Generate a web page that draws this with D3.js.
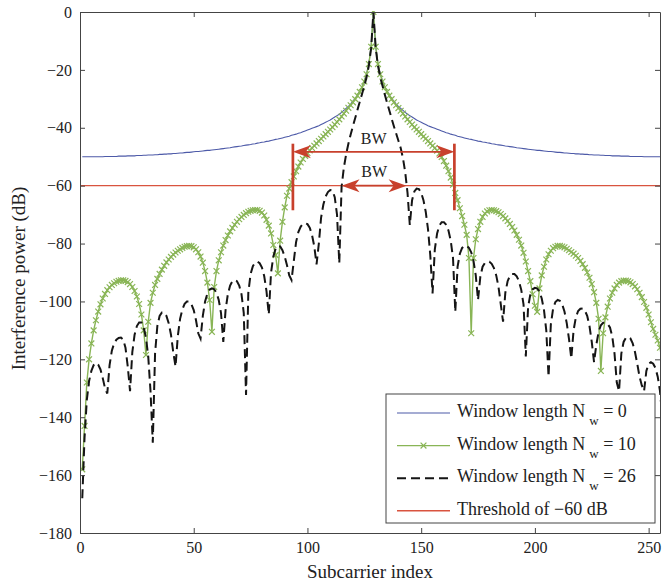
<!DOCTYPE html>
<html>
<head>
<meta charset="utf-8">
<script src="https://cdn.jsdelivr.net/npm/d3@7/dist/d3.min.js"></script>
<style>
  html, body { margin: 0; padding: 0; background: #ffffff; }
  svg { display: block; }
</style>
</head>
<body>
<svg id="chart" width="663" height="583"></svg>
<script>
// Subcarrier indices 1..256 (the desired subcarrier sits at index 129)
const subcarrier = d3.range(1, 257);

// Interference power (dB), window length Nw = 0
const nw0 = [
  -50,-50,-50,-50,-50,-50,-50,-50,-50,-50,
  -49.9,-49.9,-49.9,-49.9,-49.9,-49.9,-49.8,-49.8,-49.8,-49.8,
  -49.7,-49.7,-49.7,-49.7,-49.6,-49.6,-49.6,-49.5,-49.5,-49.4,
  -49.4,-49.4,-49.3,-49.3,-49.2,-49.2,-49.1,-49.1,-49.0,-49.0,
  -48.9,-48.9,-48.8,-48.7,-48.7,-48.6,-48.5,-48.5,-48.4,-48.3,
  -48.2,-48.2,-48.1,-48.0,-47.9,-47.8,-47.8,-47.7,-47.6,-47.5,
  -47.4,-47.3,-47.2,-47.1,-47.0,-46.9,-46.7,-46.6,-46.5,-46.4,
  -46.3,-46.1,-46.0,-45.9,-45.8,-45.6,-45.5,-45.3,-45.2,-45.0,
  -44.9,-44.7,-44.6,-44.4,-44.2,-44.0,-43.9,-43.7,-43.5,-43.3,
  -43.1,-42.9,-42.6,-42.4,-42.2,-41.9,-41.7,-41.4,-41.1,-40.8,
  -40.5,-40.2,-39.9,-39.6,-39.3,-38.9,-38.5,-38.1,-37.7,-37.3,
  -36.8,-36.3,-35.8,-35.3,-34.7,-34.0,-33.3,-32.6,-31.8,-30.8,
  -29.8,-28.7,-27.3,-25.8,-23.8,-21.3,-17.8,-11.8,0,
  -11.8,-17.8,-21.3,-23.8,-25.8,-27.3,-28.7,-29.8,-30.8,-31.8,
  -32.6,-33.3,-34.0,-34.7,-35.3,-35.8,-36.3,-36.8,-37.3,-37.7,
  -38.1,-38.5,-38.9,-39.3,-39.6,-39.9,-40.2,-40.5,-40.8,-41.1,
  -41.4,-41.7,-41.9,-42.2,-42.4,-42.6,-42.9,-43.1,-43.3,-43.5,
  -43.7,-43.9,-44.0,-44.2,-44.4,-44.6,-44.7,-44.9,-45.0,-45.2,
  -45.3,-45.5,-45.6,-45.8,-45.9,-46.0,-46.1,-46.3,-46.4,-46.5,
  -46.6,-46.7,-46.9,-47.0,-47.1,-47.2,-47.3,-47.4,-47.5,-47.6,
  -47.7,-47.8,-47.8,-47.9,-48.0,-48.1,-48.2,-48.2,-48.3,-48.4,
  -48.5,-48.5,-48.6,-48.7,-48.7,-48.8,-48.9,-48.9,-49.0,-49.0,
  -49.1,-49.1,-49.2,-49.2,-49.3,-49.3,-49.4,-49.4,-49.4,-49.5,
  -49.5,-49.6,-49.6,-49.6,-49.7,-49.7,-49.7,-49.7,-49.8,-49.8,
  -49.8,-49.8,-49.9,-49.9,-49.9,-49.9,-49.9,-49.9,-50.0,-50.0,
  -50,-50,-50,-50,-50,-50,-50
];

// Interference power (dB), window length Nw = 10
const nw10 = [
  -158,-143,-128,-120,-114.5,-110,-106.5,-103.5,-101,-99,
  -97.4,-96.1,-95.1,-94.3,-93.7,-93.2,-92.9,-92.7,-92.7,-92.9,
  -93.3,-94,-95,-96.4,-98.3,-100.9,-104.5,-110,-118.5,-107,
  -100.5,-97,-94.3,-92.2,-90.5,-89,-87.7,-86.5,-85.5,-84.6,
  -83.8,-83.1,-82.5,-82,-81.5,-81.1,-80.9,-80.8,-80.9,-81.3,
  -82,-83,-84.5,-86.6,-89.5,-93.5,-99.5,-110.5,-95,-89.5,
  -85.8,-83,-80.7,-78.8,-77.2,-75.8,-74.6,-73.5,-72.5,-71.6,
  -70.8,-70.1,-69.5,-69,-68.7,-68.5,-68.4,-68.4,-68.7,-69.3,
  -70.3,-71.8,-73.8,-76.5,-80.5,-84,-90.3,-79,-72.5,-67.5,
  -63.5,-61,-58.8,-56.8,-55,-53.4,-52,-50.8,-49.7,-48.7,
  -47.8,-47,-46.2,-45.4,-44.6,-43.8,-43,-42.2,-41.4,-40.6,
  -39.8,-38.9,-38,-37.1,-36.1,-35.1,-34.1,-33.1,-32.2,-31.2,
  -30.1,-28.9,-27.6,-26,-24,-21.5,-18,-12,0,
  -12,-18,-21.5,-24,-26,-27.6,-28.9,-30.1,-31.2,-32.2,
  -33.2,-34.1,-35.1,-36.1,-37.1,-38,-38.9,-39.8,-40.6,-41.4,
  -42.2,-43,-43.8,-44.6,-45.4,-46.2,-47,-47.9,-48.9,-50.1,
  -51.5,-53.1,-55,-57.2,-59.7,-62.5,-65,-67.8,-70.5,-73.5,
  -77,-85,-111,-85,-78.5,-75,-72.5,-70.8,-69.6,-68.9,
  -68.5,-68.4,-68.5,-68.8,-69.2,-69.8,-70.5,-71.3,-72.2,-73.2,
  -74.3,-75.5,-77,-78.7,-80.7,-83.2,-86.2,-89.5,-93,-97.5,
  -101.5,-103.6,-95.5,-91,-88,-85.5,-83.7,-82.5,-81.6,-81.1,
  -80.8,-80.8,-81,-81.3,-81.8,-82.3,-82.9,-83.5,-84.2,-85,
  -86,-87.1,-88.4,-90,-91.8,-94,-96.8,-100.5,-106,-124,
  -111,-105.5,-101.8,-99,-97,-95.5,-94.3,-93.5,-93,-92.8,
  -92.8,-93,-93.4,-94,-94.8,-95.8,-97,-98.5,-100.2,-102.2,
  -104.5,-107.2,-109.5,-111.5,-113.5,-116,-121
];

// Interference power (dB), window length Nw = 26
const nw26 = [
  -168,-147,-134,-127.5,-124,-122,-121.2,-121.8,-123.5,-126.5,
  -130,-131.8,-122,-117,-114.5,-113.2,-112.6,-112.5,-113.2,-116,
  -122.5,-131,-117.5,-111.5,-108.5,-107.3,-107.3,-109,-112.5,-119,
  -131,-148.8,-118,-108.5,-105,-103.8,-103.8,-105,-107.5,-111.5,
  -117.5,-122.5,-112,-106,-102.8,-100.8,-100,-100,-101,-103,
  -106.5,-111,-112.8,-105,-100,-97.3,-95.9,-95.5,-95.8,-97,
  -99.5,-104,-114,-103,-97.5,-94.5,-93,-92.6,-93,-94.5,
  -97.5,-104,-132.3,-97,-90.5,-87.8,-86.6,-86.3,-86.8,-88.3,
  -91.3,-96.5,-104.5,-90,-84.5,-81.8,-80.8,-81,-82.3,-84.5,
  -87.5,-91,-92.6,-86,-79.5,-76,-74.2,-73.2,-73,-73.3,
  -74.5,-77,-81,-87.2,-80,-71,-66.5,-63.7,-62.2,-61.5,
  -61.7,-64,-70,-86.8,-60.5,-53.8,-49.2,-45.5,-42.3,-39.4,
  -36.6,-33.8,-31,-28.3,-25.5,-22.5,-18.5,-12.5,0,
  -12.5,-18.5,-22.5,-25.5,-28.5,-31.3,-34,-36.8,-39.5,-42,
  -44.5,-47,-50.5,-55.5,-62.5,-73.6,-65,-62,-61,-61.2,
  -62.5,-65,-69,-75,-84,-97.2,-82,-76.5,-73.8,-72.6,
  -72.6,-73.5,-75.5,-79,-85,-103.6,-88,-83.5,-81.5,-80.8,
  -80.8,-81.5,-83,-86,-91,-99.5,-91.5,-88,-86.7,-86.3,
  -86.3,-87,-88.5,-91,-95,-101,-107,-97,-93,-91.2,
  -90.5,-90.5,-91.3,-93,-96,-101,-119,-102,-97.5,-95.8,
  -95.3,-95.5,-96.5,-99,-103,-110,-126,-108,-102.5,-100.2,
  -99.5,-99.8,-101,-103.5,-107.5,-113,-119.7,-110,-105.5,-103.3,
  -102.5,-102.4,-103.2,-105,-108.5,-114,-121,-115,-110.5,-108.2,
  -107.4,-107.4,-107.8,-109,-112,-118,-128,-131,-118,-114,
  -112.6,-112.3,-112.8,-114.5,-117.5,-121.5,-126,-129,-131,-124,
  -121.5,-121,-121.5,-123,-126,-131,-140
];

const thresholdDb = -60;
const xTicks = [0, 50, 100, 150, 200, 250];
const yTicks = [0, -20, -40, -60, -80, -100, -120, -140, -160, -180];

// Bandwidth markers: outer pair for Nw = 10, inner pair for Nw = 26
const bwOuter = [93.6, 164.6];
const bwInner = [115, 143.6];
const bwOuterLevel = -48.3;
const bwBarSpan = [-45.5, -68.5];

const legendLabels = [
  { text: "Window length N", sub: "w", tail: " = 0" },
  { text: "Window length N", sub: "w", tail: " = 10" },
  { text: "Window length N", sub: "w", tail: " = 26" },
  { text: "Threshold of \u221260 dB", sub: null, tail: "" }
];

const colors = {
  nw0: "#4d5aa8",
  nw10: "#89b556",
  nw26: "#151515",
  threshold: "#d9533f",
  arrow: "#c8402c",
  axis: "#444444"
};

const W = 663, H = 583;
const plot = { left: 80, right: 660, top: 12, bottom: 533 };
const serif = "'Liberation Serif', 'Times New Roman', serif";

const svg = d3.select("#chart");
svg.append("rect").attr("width", W).attr("height", H).attr("fill", "#ffffff");

const x = d3.scaleLinear().domain([0, 255]).range([plot.left, plot.right]);
const y = d3.scaleLinear().domain([-180, 0]).range([plot.bottom, plot.top]);

svg.append("defs").append("clipPath").attr("id", "plotClip")
  .append("rect")
  .attr("x", plot.left).attr("y", plot.top - 1)
  .attr("width", plot.right - plot.left).attr("height", plot.bottom - plot.top + 2);

const data = subcarrier.map((k, i) => ({ k, a: nw0[i], b: nw10[i], c: nw26[i] }));
const lineOf = key => d3.line().x(d => x(d.k)).y(d => y(d[key]));

const g = svg.append("g").attr("clip-path", "url(#plotClip)");

// Nw = 0
g.append("path").datum(data).attr("d", lineOf("a"))
  .attr("fill", "none").attr("stroke", colors.nw0).attr("stroke-width", 1.1);

// Threshold
g.append("line")
  .attr("x1", x(0)).attr("x2", x(255))
  .attr("y1", y(thresholdDb)).attr("y2", y(thresholdDb))
  .attr("stroke", colors.threshold).attr("stroke-width", 1.4);

// Nw = 10 with x markers
g.append("path").datum(data).attr("d", lineOf("b"))
  .attr("fill", "none").attr("stroke", colors.nw10).attr("stroke-width", 1.4);
const cross = "M-2.9,-2.9L2.9,2.9M-2.9,2.9L2.9,-2.9";
g.append("g").selectAll("path").data(data.filter(d => d.k <= 255)).join("path")
  .attr("d", cross)
  .attr("transform", d => `translate(${x(d.k)},${y(d.b)})`)
  .attr("fill", "none").attr("stroke", colors.nw10).attr("stroke-width", 1.2);

// Nw = 26 dashed
g.append("path").datum(data).attr("d", lineOf("c"))
  .attr("fill", "none").attr("stroke", colors.nw26).attr("stroke-width", 2)
  .attr("stroke-dasharray", "9,5");

// Axes box and ticks
function styleAxis(sel) {
  sel.select(".domain").attr("stroke", colors.axis).attr("stroke-width", 1);
  sel.selectAll(".tick line").attr("stroke", colors.axis).attr("stroke-width", 1);
  sel.selectAll(".tick text")
    .attr("fill", "#222").attr("font-family", serif).attr("font-size", 16);
}
const fmt = d3.format("d");
svg.append("g").attr("transform", `translate(0,${plot.bottom})`)
  .call(d3.axisBottom(x).tickValues(xTicks).tickFormat(fmt).tickSizeInner(-5).tickSizeOuter(0).tickPadding(9))
  .call(styleAxis);
svg.append("g").attr("transform", `translate(0,${plot.top})`)
  .call(d3.axisTop(x).tickValues(xTicks).tickFormat("").tickSizeInner(-5).tickSizeOuter(0))
  .call(styleAxis);
svg.append("g").attr("transform", `translate(${plot.left},0)`)
  .call(d3.axisLeft(y).tickValues(yTicks).tickFormat(fmt).tickSizeInner(-5).tickSizeOuter(0).tickPadding(8))
  .call(styleAxis);
svg.append("g").attr("transform", `translate(${plot.right},0)`)
  .call(d3.axisRight(y).tickValues(yTicks).tickFormat("").tickSizeInner(-5).tickSizeOuter(0))
  .call(styleAxis);

// Axis titles
svg.append("text")
  .attr("x", (plot.left + plot.right) / 2).attr("y", 578)
  .attr("text-anchor", "middle").attr("font-family", serif).attr("font-size", 19).attr("fill", "#222")
  .text("Subcarrier index");
svg.append("text")
  .attr("transform", `translate(25,${(plot.top + plot.bottom) / 2 + 6}) rotate(-90)`)
  .attr("text-anchor", "middle").attr("font-family", serif).attr("font-size", 19).attr("fill", "#222")
  .text("Interference power (dB)");

// Bandwidth annotations
const ann = svg.append("g");
function arrowHead(tipX, tipY, dir) {
  const L = 18, w = 6.5;
  const back = tipX - dir * L, notch = tipX - dir * L * 0.72;
  return `M${tipX},${tipY}L${back},${tipY - w}L${notch},${tipY}L${back},${tipY + w}Z`;
}
function doubleArrow(xs, level) {
  const x0 = x(xs[0]), x1 = x(xs[1]), yy = y(level);
  ann.append("line").attr("x1", x0 + 6).attr("x2", x1 - 6).attr("y1", yy).attr("y2", yy)
    .attr("stroke", colors.arrow).attr("stroke-width", 1.7);
  ann.append("path").attr("d", arrowHead(x0, yy, -1)).attr("fill", colors.arrow);
  ann.append("path").attr("d", arrowHead(x1, yy, 1)).attr("fill", colors.arrow);
}
bwOuter.forEach(v => {
  ann.append("line")
    .attr("x1", x(v)).attr("x2", x(v))
    .attr("y1", y(bwBarSpan[0])).attr("y2", y(bwBarSpan[1]))
    .attr("stroke", colors.arrow).attr("stroke-width", 2.7);
});
doubleArrow(bwOuter, bwOuterLevel);
doubleArrow(bwInner, thresholdDb);
ann.append("text")
  .attr("x", x((bwOuter[0] + bwOuter[1]) / 2)).attr("y", y(-43.6))
  .attr("dy", "0.35em").attr("text-anchor", "middle")
  .attr("font-family", serif).attr("font-size", 16).attr("fill", "#222").text("BW");
ann.append("text")
  .attr("x", x((bwInner[0] + bwInner[1]) / 2)).attr("y", y(-54.9))
  .attr("dy", "0.35em").attr("text-anchor", "middle")
  .attr("font-family", serif).attr("font-size", 16).attr("fill", "#222").text("BW");

// Legend
const lg = svg.append("g");
const box = { x: 386, y: 394, w: 269, h: 129 };
lg.append("rect").attr("x", box.x).attr("y", box.y).attr("width", box.w).attr("height", box.h)
  .attr("fill", "#ffffff").attr("stroke", colors.axis).attr("stroke-width", 1);
const legendStyles = [
  { stroke: colors.nw0, width: 1.1, dash: null, marker: false },
  { stroke: colors.nw10, width: 1.4, dash: null, marker: true },
  { stroke: colors.nw26, width: 2, dash: "9,5", marker: false },
  { stroke: colors.threshold, width: 1.4, dash: null, marker: false }
];
legendLabels.forEach((item, i) => {
  const cy = 411 + i * 32.6;
  const st = legendStyles[i];
  const ln = lg.append("line").attr("x1", 397).attr("x2", 450).attr("y1", cy + 2).attr("y2", cy + 2)
    .attr("stroke", st.stroke).attr("stroke-width", st.width);
  if (st.dash) ln.attr("stroke-dasharray", st.dash);
  if (st.marker) {
    lg.append("path").attr("d", cross).attr("transform", `translate(423.5,${cy + 2})`)
      .attr("fill", "none").attr("stroke", st.stroke).attr("stroke-width", 1.2);
  }
  const t = lg.append("text").attr("x", 457).attr("y", cy + 6)
    .attr("font-family", serif).attr("font-size", 18).attr("fill", "#222");
  t.append("tspan").text(item.text);
  if (item.sub) {
    t.append("tspan").attr("dx", 4).attr("dy", 8).attr("font-size", 13).text(item.sub);
    t.append("tspan").attr("dy", -8).text(item.tail);
  }
});
</script>
</body>
</html>
